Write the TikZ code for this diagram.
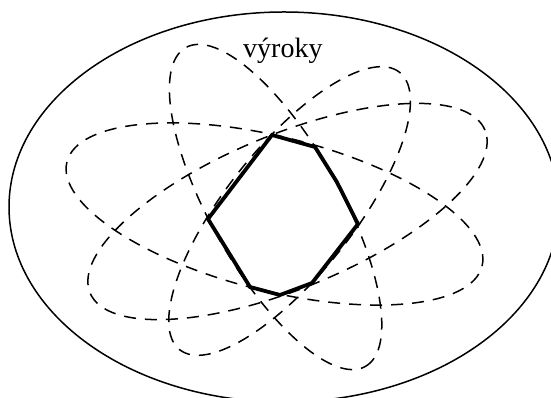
\documentclass[tikz,border=0pt]{standalone}
\usepackage{fontspec}
\setmainfont{Liberation Serif}
\begin{document}
\begin{tikzpicture}[x=1pt,y=1pt,
  outerline/.style={line width=1.5pt},
  setline/.style={line width=1.5pt, dash pattern=on 12pt off 9pt},
  hull/.style={line width=3.8pt, line join=miter}]
\useasboundingbox (0,0) rectangle (551,398);
\clip (0,0) rectangle (551,398);
% universe
\draw[outerline] (284,191) ellipse [x radius=275, y radius=195];
% label
\node[anchor=base west, inner sep=0pt, font=\fontsize{28}{30}\selectfont] (lbl) at (243,340) {výroky};
% dashed sets
\draw[setline, shift={(274.5,184)}, rotate=-14.1] (0,0) ellipse [x radius=214, y radius=77];
\draw[setline, shift={(287.5,186.5)}, rotate=22.4] (0,0) ellipse [x radius=213.6, y radius=77];
\draw[setline, shift={(275.6,191)}, rotate=-60.6] (0,0) ellipse [x radius=183, y radius=65];
\draw[setline, shift={(289.6,187)}, rotate=51.6] (0,0) ellipse [x radius=177, y radius=64];
% intersection
\coordinate (A) at (272,263);
\coordinate (B) at (315,251);
\coordinate (BC) at (336.7,216.3);
\coordinate (C) at (358,174);
\coordinate (D) at (312,115);
\coordinate (E) at (280,103);
\coordinate (F) at (250,111);
\coordinate (G) at (208,179);
\draw[hull] (A) -- (B) -- (BC) -- (C) -- (D) -- (E) -- (F) -- (G) -- cycle;
\end{tikzpicture}
\end{document}
